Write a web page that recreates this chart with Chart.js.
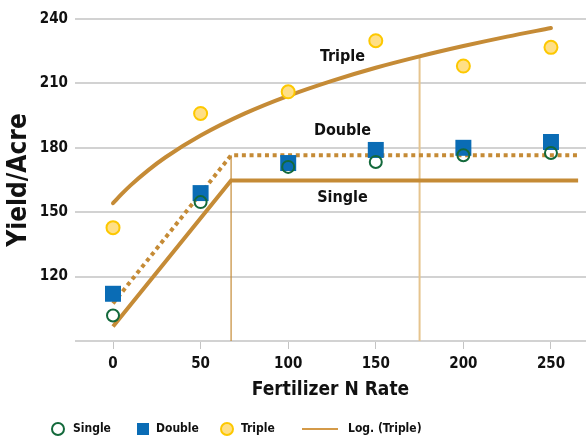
<!DOCTYPE html>
<html>
<head>
<meta charset="utf-8">
<title>Yield vs Fertilizer N Rate</title>
<script src="https://cdn.jsdelivr.net/npm/chart.js@4.4.1/dist/chart.umd.min.js"></script>
<style>
  html, body { margin: 0; padding: 0; background: #fff; }
  #wrap { width: 586px; height: 436px; }
</style>
</head>
<body>
<div id="wrap"><canvas id="yieldChart" width="586" height="436"></canvas></div>
<script>
// observed yields at each N rate
var xRates = [0, 50, 100, 150, 200, 250];
var singleYield = [101.9, 154.7, 171.1, 173.4, 176.5, 177.6];
var doubleYield = [112.0, 158.9, 172.9, 179.0, 180.0, 182.7];
var tripleYield = [142.8, 196.0, 206.1, 229.9, 218.1, 226.8];

// log trendline for Triple
var logX = [0, 5, 10, 20, 30, 50, 75, 100, 125, 150, 175, 200, 225, 250];
var logY = [154.2, 158.5, 162.5, 169.5, 175.6, 185.7, 195.9, 204.2, 211.2, 217.3, 222.6, 227.4, 231.8, 235.8];

// linear-plateau fits
var singleFitX = [0, 67.4, 265.5];
var singleFitY = [96.7, 164.8, 164.8];
var doubleFitX = [0, 67.4, 265.5];
var doubleFitY = [107.5, 176.5, 176.5];

// drop lines
var joinLineX = [67.4, 67.4];
var joinLineY = [176.5, 90];
var tripleDropX = [175, 175];
var tripleDropY = [222.6, 90];

var xTicks = [0, 50, 100, 150, 200, 250];
var yTicks = [90, 120, 150, 180, 210, 240];

var curveNames = ['Triple', 'Double', 'Single'];
var curveNameX = [131, 131, 131];
var curveNameY = [222.3, 187.7, 156.5];

var condFont = "'Liberation Sans Narrow', 'DejaVu Sans Condensed', 'Roboto Condensed', 'Arial Narrow', sans-serif";
var brown = '#c58b36';

function pts(xs, ys) {
    return xs.map(function (x, i) { return { x: x, y: ys[i] }; });
}

Chart.defaults.font.family = condFont;
Chart.defaults.font.weight = 'bold';
Chart.defaults.color = '#111';

// labels next to the fitted curves
var curveNamePlugin = {
    id: 'curveNames',
    afterDatasetsDraw: function (chart) {
        var ctx = chart.ctx;
        ctx.save();
        ctx.font = 'bold 16px ' + condFont;
        ctx.fillStyle = '#111';
        ctx.textAlign = 'center';
        ctx.textBaseline = 'middle';
        curveNames.forEach(function (t, i) {
            ctx.fillText(t, chart.scales.x.getPixelForValue(curveNameX[i]), chart.scales.y.getPixelForValue(curveNameY[i]));
        });
        ctx.restore();
    }
};

// legend along the bottom
var bottomLegend = {
    id: 'bottomLegend',
    afterDraw: function (chart) {
        var ctx = chart.ctx;
        var ds = chart.data.datasets;
        var y = 429;
        ctx.save();
        ctx.font = 'bold 12px ' + condFont;
        ctx.fillStyle = '#111';
        ctx.textBaseline = 'middle';
        ctx.textAlign = 'left';

        ctx.beginPath();
        ctx.arc(58, y, 6, 0, Math.PI * 2);
        ctx.lineWidth = 2;
        ctx.strokeStyle = ds[0].pointBorderColor;
        ctx.stroke();
        ctx.fillText(ds[0].label, 73, y);

        ctx.fillStyle = ds[1].pointBackgroundColor;
        ctx.fillRect(137, y - 6, 12, 12);
        ctx.fillStyle = '#111';
        ctx.fillText(ds[1].label, 156, y);

        ctx.beginPath();
        ctx.arc(227, y, 6, 0, Math.PI * 2);
        ctx.fillStyle = ds[2].pointBackgroundColor;
        ctx.fill();
        ctx.strokeStyle = ds[2].pointBorderColor;
        ctx.stroke();
        ctx.fillStyle = '#111';
        ctx.fillText(ds[2].label, 241, y);

        ctx.beginPath();
        ctx.moveTo(302, y);
        ctx.lineTo(338, y);
        ctx.lineWidth = 2;
        ctx.strokeStyle = '#d49a48';
        ctx.stroke();
        ctx.fillText(ds[3].label, 348, y);
        ctx.restore();
    }
};

var ctx = document.getElementById('yieldChart').getContext('2d');
var yieldChart = new Chart(ctx, {
    type: 'scatter',
    data: {
        datasets: [{
            label: 'Single',
            data: pts(xRates, singleYield),
            pointStyle: 'circle',
            pointRadius: 6,
            pointBorderWidth: 2,
            pointBorderColor: '#13693b',
            pointBackgroundColor: 'rgba(0,0,0,0)',
            order: 0
        }, {
            label: 'Double',
            data: pts(xRates, doubleYield),
            pointStyle: 'rect',
            pointRadius: 11.3,
            pointBorderWidth: 0,
            pointBorderColor: '#0a6cb5',
            pointBackgroundColor: '#0a6cb5',
            order: 1
        }, {
            label: 'Triple',
            data: pts(xRates, tripleYield),
            pointStyle: 'circle',
            pointRadius: 6.5,
            pointBorderWidth: 2,
            pointBorderColor: '#fdc800',
            pointBackgroundColor: '#ffdf86',
            order: 2
        }, {
            label: 'Log. (Triple)',
            data: pts(logX, logY),
            showLine: true,
            pointRadius: 0,
            borderColor: brown,
            borderWidth: 4,
            borderCapStyle: 'round',
            cubicInterpolationMode: 'monotone',
            order: 3
        }, {
            label: 'Single fit',
            data: pts(singleFitX, singleFitY),
            showLine: true,
            pointRadius: 0,
            borderColor: brown,
            borderWidth: 4,
            order: 4
        }, {
            label: 'Double fit',
            data: pts(doubleFitX, doubleFitY),
            showLine: true,
            pointRadius: 0,
            borderColor: brown,
            borderWidth: 4,
            borderDash: [4, 3.7],
            order: 5
        }, {
            label: 'join',
            data: pts(joinLineX, joinLineY),
            showLine: true,
            pointRadius: 0,
            borderColor: brown,
            borderWidth: 1.2,
            order: 6
        }, {
            label: 'drop',
            data: pts(tripleDropX, tripleDropY),
            showLine: true,
            pointRadius: 0,
            borderColor: '#e6c48e',
            borderWidth: 2,
            order: 7
        }]
    },
    options: {
        responsive: false,
        animation: false,
        layout: { autoPadding: false, padding: { top: 19, right: 0, bottom: 30, left: 0 } },
        plugins: {
            legend: { display: false },
            tooltip: { enabled: false }
        },
        scales: {
            x: {
                type: 'linear',
                min: -21.7,
                max: 270,
                afterBuildTicks: function (s) { s.ticks = xTicks.map(function (v) { return { value: v }; }); },
                afterFit: function (s) { s.height = 65; s.paddingLeft = 0; s.paddingRight = 0; },
                grid: { drawOnChartArea: false, drawTicks: true, tickLength: 8, color: '#c4c4c4', lineWidth: 1 },
                border: { display: false },
                ticks: { font: { size: 15 }, padding: 6, color: '#111' },
                title: { display: true, text: 'Fertilizer N Rate', font: { size: 19 }, padding: { top: 2, bottom: 5 }, color: '#111' }
            },
            y: {
                min: 90,
                max: 240,
                afterBuildTicks: function (s) { s.ticks = yTicks.map(function (v) { return { value: v }; }); },
                afterFit: function (s) { s.width = 75; },
                grid: { drawTicks: false, color: '#d2d2d2', lineWidth: 2 },
                border: { display: false },
                ticks: {
                    font: { size: 15 },
                    padding: 7,
                    color: '#111',
                    callback: function (v) { return v === 90 ? '' : v; }
                },
                title: { display: true, text: 'Yield/Acre', font: { size: 26 }, padding: { top: 4, bottom: 0 }, color: '#111' }
            }
        }
    },
    plugins: [curveNamePlugin, bottomLegend]
});
</script>
</body>
</html>
